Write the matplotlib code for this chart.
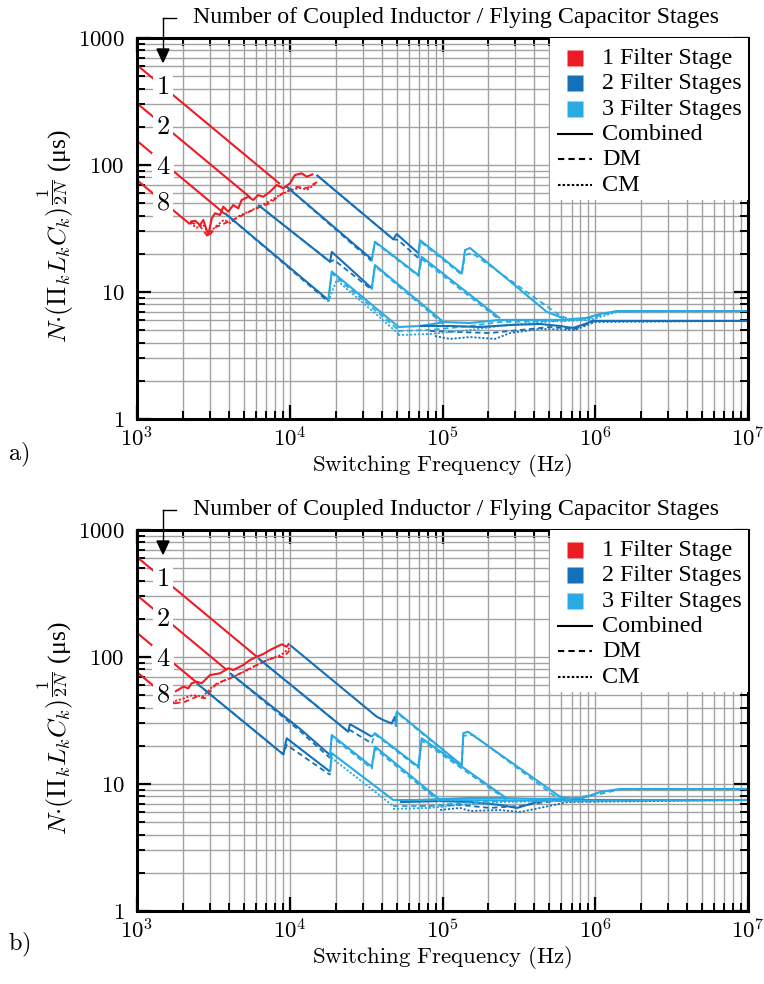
import matplotlib
matplotlib.use('Agg')
import matplotlib.pyplot as plt
import matplotlib.ticker as mticker
from matplotlib.lines import Line2D
from matplotlib.patches import Rectangle

plt.rcParams['mathtext.fontset'] = 'cm'
plt.rcParams['font.family'] = ['Liberation Serif', 'DejaVu Serif']

RED = '#ED1C24'
BLUE = '#1570B8'
LBLUE = '#29AAE2'

# ---------------- common: 1-filter-stage straight lines (N = 1, 2, 4, 8) ----
RED_F0 = 1000
RED_V0 = [612, 306, 155, 76]

# ================= panel a) =================
A_RED_FEND = [8630, 5495, 3767, 2223]
A_RED_VEND = [70.9, 55.7, 41.1, 34.2]

A_JAG_F = [2223, 2399, 2583, 2716, 2929, 3084, 3243, 3493, 3672, 3961, 4269, 4603,
           4842, 5352, 5768, 6218, 6712, 7424, 8218, 9078, 10040, 10820, 11970, 12910, 14260]
A_JAG_V = [35.8, 36.4, 33.7, 36.9, 28.1, 38.0, 41.7, 40.4, 47.0, 42.9, 48.4, 45.6,
           53.0, 56.2, 53.0, 58.0, 56.2, 61.6, 69.6, 65.6, 71.8, 83.4, 86.0, 80.9, 84.9]
A_JAG_DM_F = [2223, 2583, 2917, 3289, 3945, 4519, 5747, 7424, 9036, 11150, 12970, 15070]
A_JAG_DM_V = [35.6, 33.1, 27.1, 32.5, 35.6, 38.3, 44.3, 50.2, 60.3, 67.2, 65.9, 73.5]
A_JAG_CM_F = [2223, 2450, 2700, 2950, 3300, 3700, 4100, 4700, 5400, 6300, 7400, 8600,
              10000, 11500, 13000, 15000]
A_JAG_CM_V = [35, 32, 34, 29, 33, 37, 35, 40, 43, 47, 52, 58, 63, 66, 64, 72]

A_DB1_F = [15000, 47640, 50120, 69470]
A_DB1_V = [83.4, 26.0, 28.6, 20.2]
A_DB1_DM_F = [15000, 47640, 51170, 69470]
A_DB1_DM_V = [83.4, 26.0, 25.7, 18.5]
A_DB2_F = [9550, 34430]
A_DB2_V = [67.5, 18.1]
A_DB2_DM_V = [67.5, 17.5]
A_DB4_F = [6223, 18360, 18840, 34430]
A_DB4_V = [48.4, 17.3, 20.7, 10.7]
A_DB4_DM_F = [6223, 18360, 19500, 34430]
A_DB4_DM_V = [48.4, 17.3, 17.9, 10.4]
A_DB8_F = [3767, 17870]
A_DB8_V = [41.7, 8.65]
A_DB8_DM_V = [41.7, 8.4]

A_LB1_F = [69470, 71290, 133600, 140400, 151400, 481000, 620000]
A_LB1_V = [20.2, 25.6, 14.0, 21.4, 22.2, 6.98, 6.2]
A_LB1_DM_F = [69470, 71290, 133600, 140400, 156000, 559800, 650000]
A_LB1_DM_V = [18.5, 25.0, 13.7, 19.5, 20.3, 6.79, 6.2]
A_LB2_F = [34430, 36130, 69470, 73130, 237600]
A_LB2_V = [18.1, 24.9, 13.6, 18.9, 6.21]
A_LB2_DM_V = [17.5, 24.5, 13.4, 18.2, 6.0]
A_LB4_F = [34430, 36130, 101200]
A_LB4_V = [10.7, 16.3, 5.82]
A_LB4_DM_V = [10.4, 16.0, 5.6]
A_LB8_F = [17870, 18840, 51380]
A_LB8_V = [8.65, 14.5, 5.33]
A_LB8_DM_F = [17870, 18840, 52740]
A_LB8_DM_V = [8.4, 14.0, 4.9]
A_LB8_CM_F = [17870, 20280, 52740]
A_LB8_CM_V = [8.4, 12.4, 4.58]

A_LF_F = [51170, 71290, 103800, 151400, 237800, 373800, 587500, 869000, 1074000, 1387000, 1e7]
A_LF_V = [5.30, 5.40, 5.80, 5.70, 6.03, 6.03, 6.03, 6.24, 6.71, 7.08, 7.08]
A_LF_DM_F = [51170, 82770, 151400, 237800, 587500, 869000, 1387000, 1e7]
A_LF_DM_V = [4.93, 5.02, 5.40, 5.80, 5.92, 6.13, 7.08, 7.08]
A_LF_CM_F = [51170, 82770, 151400, 237800, 434700, 924700, 1387000, 1e7]
A_LF_CM_V = [4.58, 4.67, 5.02, 5.40, 5.80, 6.03, 6.96, 7.08]

A_DF_F = [71290, 111900, 175900, 276500, 434700, 587500, 714500, 856700, 966500, 1e7]
A_DF_V = [5.40, 5.40, 5.30, 5.50, 5.60, 5.40, 5.21, 5.60, 5.92, 5.92]
A_DF_DM_F = [82770, 130300, 204600, 321400, 505300, 736000, 995000, 1e7]
A_DF_DM_V = [4.93, 4.84, 4.75, 5.02, 5.30, 5.12, 5.92, 5.92]
A_DF_CM_F = [89300, 111900, 151400, 220700, 276500, 434700, 736000, 995000, 1e7]
A_DF_CM_V = [4.50, 4.27, 4.42, 4.27, 4.75, 5.12, 5.02, 5.80, 5.92]

# ================= panel b) =================
B_RED_FEND = [6081, 3864, 2460, 1774]
B_RED_VEND = [100.6, 79.2, 63.0, 42.8]

B_JAG_F = [1774, 2011, 2166, 2280, 2460, 2652, 3006, 3493, 3961, 4269, 4962, 5495,
           6081, 6714, 7430, 8222, 8860, 9550, 9931]
B_JAG_V = [53.3, 58.4, 56.7, 62.1, 63.9, 62.1, 72.1, 74.4, 81.5, 79.0, 86.5, 94.7,
           100.5, 105.6, 113.5, 120.5, 125.9, 120.5, 128.2]
B_JAG_DM_F = [1774, 2061, 2460, 2786, 3326, 4064, 5224, 6714, 8222, 9080, 10040]
B_JAG_DM_V = [43.2, 44.4, 48.7, 47.3, 62.1, 67.9, 79.0, 91.9, 100.5, 99.5, 113.5]
B_JAG_CM_F = [1774, 2000, 2300, 2700, 3100, 3600, 4300, 5200, 6300, 7500, 8800, 10000]
B_JAG_CM_V = [45, 47, 50, 49, 58, 64, 70, 78, 88, 97, 104, 118]

B_DB1_F = [10040, 37070, 40950, 46450, 48850, 49630]
B_DB1_V = [124.2, 33.9, 31.9, 30.0, 33.9, 28.3]
B_DB2_F = [6223, 24150, 24780, 34430]
B_DB2_V = [97.7, 25.8, 29.6, 23.6]
B_DB2_DM_V = [97.7, 25.8, 26.6, 20.9]
B_DB4_F = [4064, 11670, 18360]
B_DB4_V = [74.5, 27.2, 16.9]
B_DB4_DM_V = [74.5, 26.1, 16.0]
B_DB8_F = [2460, 9080, 9550, 18360]
B_DB8_V = [62.1, 17.1, 22.9, 12.5]
B_DB8_DM_V = [62.1, 17.1, 20.3, 11.8]

B_LB1_F = [49630, 50120, 133600, 136900, 146800, 587500, 700000]
B_LB1_V = [28.3, 37.1, 14.1, 25.1, 25.8, 7.94, 7.6]
B_LB1_DM_F = [49630, 50120, 133600, 136900, 159200, 531100, 700000]
B_LB1_DM_V = [28.3, 36.5, 13.9, 24.0, 24.3, 8.18, 7.6]
B_LB2_F = [34430, 36130, 69470, 73130, 263000]
B_LB2_V = [23.6, 25.1, 13.7, 22.9, 7.71]
B_LB2_DM_V = [20.9, 24.6, 13.4, 22.0, 7.5]
B_LB4_F = [18360, 18840, 34430, 36130, 96400]
B_LB4_V = [16.9, 24.3, 13.7, 19.7, 7.48]
B_LB4_DM_V = [16.0, 23.6, 13.2, 19.0, 7.2]
B_LB8_F = [18360, 18840, 47640]
B_LB8_V = [12.5, 17.5, 7.48]
B_LB8_DM_V = [11.8, 16.0, 6.71]

B_LF_F = [47430, 71290, 96400, 151400, 237800, 434700, 831000, 1074000, 1452000, 1e7]
B_LF_V = [7.48, 7.48, 7.62, 7.76, 7.76, 7.62, 7.76, 8.65, 9.14, 9.14]
B_LF2_F = [96400, 434700, 1e7]
B_LF2_V = [7.48, 7.40, 7.48]
B_LF_DM_F = [47430, 82770, 130300, 237800, 587500, 1074000, 1452000, 1e7]
B_LF_DM_V = [6.71, 6.71, 7.08, 7.34, 7.48, 8.34, 9.06, 9.06]
B_LF_CM_F = [47430, 82770, 130300, 237800, 587500, 1e7]
B_LF_CM_V = [6.36, 6.48, 6.84, 7.21, 7.34, 7.48]

B_DF_F = [52740, 96400, 151400, 237800, 307600, 391900, 469000, 1e7]
B_DF_V = [7.21, 7.34, 7.21, 6.84, 6.48, 7.08, 7.48, 7.48]
B_DF_DM_F = [71290, 130300, 204600, 321400, 469000, 660000, 1e7]
B_DF_DM_V = [6.71, 6.84, 6.48, 6.71, 7.21, 7.48, 7.48]
B_DF_CM_F = [96400, 130300, 151400, 237800, 321400, 434700, 660000, 1e7]
B_DF_CM_V = [6.24, 6.48, 6.13, 6.24, 6.02, 6.48, 7.21, 7.48]

N_LABELS = ['1', '2', '4', '8']
LEGEND_STAGES = ['1 Filter Stage', '2 Filter Stages', '3 Filter Stages']
LEGEND_TYPES = ['Combined', 'DM', 'CM']
ANNOT = 'Number of Coupled Inductor / Flying Capacitor Stages'

W, H = 764, 984
fig = plt.figure(figsize=(W / 100, H / 100), dpi=100)

LW = 1.5
STY = {'c': '-', 'dm': (0, (3, 2)), 'cm': (0, (1.2, 1.0))}


def draw(ax, f, v, color, kind='c', z=2):
    ax.plot(f, v, color=color, lw=LW if kind == 'c' else 1.3,
            linestyle=STY[kind], zorder=z, solid_capstyle='butt')


def style_axes(ax):
    ax.set_xscale('log')
    ax.set_yscale('log')
    ax.set_xlim(1e3, 1e7)
    ax.set_ylim(1, 1000)
    ax.xaxis.set_minor_locator(mticker.LogLocator(base=10, subs=range(2, 10), numticks=100))
    ax.yaxis.set_minor_locator(mticker.LogLocator(base=10, subs=range(2, 10), numticks=100))
    ax.set_xticks([1e3, 1e4, 1e5, 1e6, 1e7])
    ax.set_xticklabels([r'$10^{3}$', r'$10^{4}$', r'$10^{5}$', r'$10^{6}$', r'$10^{7}$'])
    ax.set_yticks([1, 10, 100, 1000])
    ax.set_yticklabels([r'$1$', r'$10$', r'$100$', r'$1000$'])
    ax.xaxis.set_minor_formatter(mticker.NullFormatter())
    ax.yaxis.set_minor_formatter(mticker.NullFormatter())
    ax.grid(True, which='both', color='#a2a2a2', lw=1.0, zorder=0)
    ax.set_axisbelow(True)
    ax.tick_params(which='both', direction='in', top=True, right=True,
                   labelsize=16.5, colors='black')
    ax.tick_params(which='major', length=10, width=1.6)
    ax.tick_params(axis='x', which='major', pad=6)
    ax.tick_params(axis='y', which='major', pad=9)
    ax.tick_params(which='minor', length=6, width=1.4)
    for s in ax.spines.values():
        s.set_linewidth(2.2)
    ax.set_xlabel(r'$\mathrm{Switching\ Frequency\ (Hz)}$', fontsize=16.5, labelpad=0.5)
    ax.set_ylabel(r'$N{\cdot}(\Pi_k L_k C_k)^{\dfrac{1}{2N}}$ (μs)', fontsize=18.5)
    ax.yaxis.set_label_coords(-0.10, 0.48)


def legend_box(ax):
    ax.add_patch(Rectangle((0.676, 0.575), 0.324, 0.425, transform=ax.transAxes,
                           facecolor='white', edgecolor='none', zorder=5))
    ys = [0.947, 0.881, 0.813, 0.748, 0.682, 0.614]
    for y, col, lab in zip(ys[:3], [RED, BLUE, LBLUE], LEGEND_STAGES):
        ax.plot([0.717], [y], marker='s', ms=11.5, color=col, mec='none',
                transform=ax.transAxes, zorder=6, clip_on=False)
        ax.text(0.761, y, lab, transform=ax.transAxes, fontsize=17.4,
                va='center', ha='left', zorder=6)
    for y, k, lab in zip(ys[3:], ['c', 'dm', 'cm'], LEGEND_TYPES):
        ax.plot([0.689, 0.745], [y, y], color='black', lw=LW, linestyle=STY[k],
                transform=ax.transAxes, zorder=6)
        ax.text(0.761, y, lab, transform=ax.transAxes, fontsize=17.4,
                va='center', ha='left', zorder=6)


def n_labels(ax):
    for y, lab in zip([0.869, 0.764, 0.659, 0.565], N_LABELS):
        ax.text(0.0426, y, '$' + lab + '$', transform=ax.transAxes, fontsize=19,
                ha='center', va='center', zorder=7,
                bbox=dict(facecolor='white', edgecolor='none', pad=2.5))


def annotate(top_px):
    yf = 1 - top_px / H
    fig.text(193 / W, yf, ANNOT, fontsize=17.2, ha='left', va='center')
    fig.add_artist(Line2D([176 / W, 163 / W], [yf, yf], color='black', lw=1.0,
                          transform=fig.transFigure))
    fig.add_artist(Line2D([163 / W, 163 / W], [yf, 1 - (top_px + 32) / H], color='black',
                          lw=1.0, transform=fig.transFigure))
    fig.add_artist(plt.Polygon([[157 / W, 1 - (top_px + 31) / H], [169 / W, 1 - (top_px + 31) / H],
                                [163 / W, 1 - (top_px + 44) / H]], closed=True,
                               color='black', transform=fig.transFigure))


def panel(ax, red_fend, red_vend, jag, dbs, lbs, floors):
    for v0, fe, ve in zip(RED_V0, red_fend, red_vend):
        draw(ax, [RED_F0, fe], [v0, ve], RED)
    for f, v, kind in jag:
        draw(ax, f, v, RED, kind)
    for f, v, col, kind in floors:
        draw(ax, f, v, col, kind)
    for f, v, kind in dbs:
        draw(ax, f, v, BLUE, kind)
    for f, v, kind in lbs:
        draw(ax, f, v, LBLUE, kind)


ax_a = fig.add_axes([137 / W, 1 - 419 / H, 611 / W, 381 / H])
ax_b = fig.add_axes([137 / W, 1 - 911 / H, 611 / W, 381 / H])

panel(ax_a, A_RED_FEND, A_RED_VEND,
      [(A_JAG_CM_F, A_JAG_CM_V, 'cm'), (A_JAG_DM_F, A_JAG_DM_V, 'dm'), (A_JAG_F, A_JAG_V, 'c')],
      [(A_DB1_DM_F, A_DB1_DM_V, 'dm'), (A_DB2_F, A_DB2_DM_V, 'dm'),
       (A_DB4_DM_F, A_DB4_DM_V, 'dm'), (A_DB8_F, A_DB8_DM_V, 'dm'),
       (A_DB1_F, A_DB1_V, 'c'), (A_DB2_F, A_DB2_V, 'c'), (A_DB4_F, A_DB4_V, 'c'),
       (A_DB8_F, A_DB8_V, 'c')],
      [(A_LB1_DM_F, A_LB1_DM_V, 'dm'), (A_LB2_F, A_LB2_DM_V, 'dm'), (A_LB4_F, A_LB4_DM_V, 'dm'),
       (A_LB8_DM_F, A_LB8_DM_V, 'dm'), (A_LB8_CM_F, A_LB8_CM_V, 'cm'),
       (A_LB1_F, A_LB1_V, 'c'), (A_LB2_F, A_LB2_V, 'c'), (A_LB4_F, A_LB4_V, 'c'),
       (A_LB8_F, A_LB8_V, 'c')],
      [(A_DF_CM_F, A_DF_CM_V, BLUE, 'cm'), (A_DF_DM_F, A_DF_DM_V, BLUE, 'dm'),
       (A_LF_CM_F, A_LF_CM_V, LBLUE, 'cm'), (A_LF_DM_F, A_LF_DM_V, LBLUE, 'dm'),
       (A_LF_F, A_LF_V, LBLUE, 'c'), (A_DF_F, A_DF_V, BLUE, 'c')])

panel(ax_b, B_RED_FEND, B_RED_VEND,
      [(B_JAG_CM_F, B_JAG_CM_V, 'cm'), (B_JAG_DM_F, B_JAG_DM_V, 'dm'), (B_JAG_F, B_JAG_V, 'c')],
      [(B_DB2_F, B_DB2_DM_V, 'dm'), (B_DB4_F, B_DB4_DM_V, 'dm'), (B_DB8_F, B_DB8_DM_V, 'dm'),
       (B_DB1_F, B_DB1_V, 'c'), (B_DB2_F, B_DB2_V, 'c'), (B_DB4_F, B_DB4_V, 'c'),
       (B_DB8_F, B_DB8_V, 'c')],
      [(B_LB1_DM_F, B_LB1_DM_V, 'dm'), (B_LB2_F, B_LB2_DM_V, 'dm'), (B_LB4_F, B_LB4_DM_V, 'dm'),
       (B_LB8_F, B_LB8_DM_V, 'cm'),
       (B_LB1_F, B_LB1_V, 'c'), (B_LB2_F, B_LB2_V, 'c'), (B_LB4_F, B_LB4_V, 'c'),
       (B_LB8_F, B_LB8_V, 'c')],
      [(B_DF_CM_F, B_DF_CM_V, BLUE, 'cm'), (B_DF_DM_F, B_DF_DM_V, BLUE, 'dm'),
       (B_DF_F, B_DF_V, BLUE, 'c'),
       (B_LF_CM_F, B_LF_CM_V, LBLUE, 'cm'), (B_LF_DM_F, B_LF_DM_V, LBLUE, 'dm'),
       (B_LF_F, B_LF_V, LBLUE, 'c'), (B_LF2_F, B_LF2_V, LBLUE, 'c')])

for ax in (ax_a, ax_b):
    style_axes(ax)
    legend_box(ax)
    n_labels(ax)

annotate(18)
annotate(510)
fig.text(8 / W, 1 - 455 / H, r'$\mathrm{a)}$', fontsize=17.5, ha='left', va='center')
fig.text(8 / W, 1 - 945 / H, r'$\mathrm{b)}$', fontsize=17.5, ha='left', va='center')

fig.savefig('out.png', dpi=100)
